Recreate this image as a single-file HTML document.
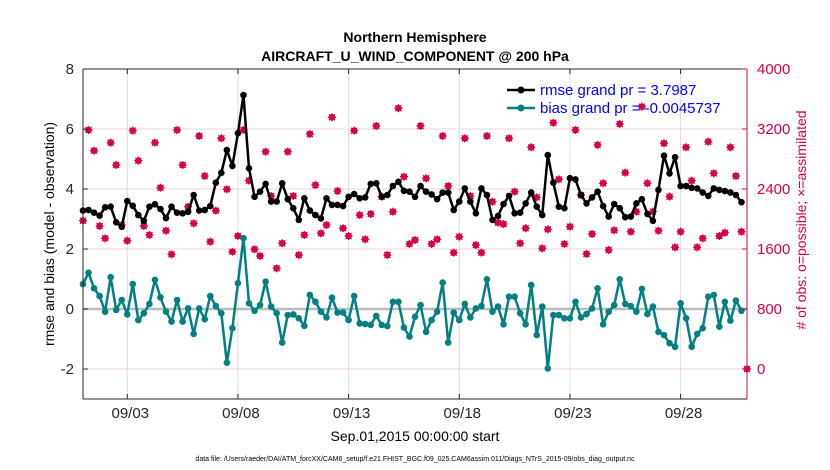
<!DOCTYPE html>
<html><head><meta charset="utf-8"><style>
html,body{margin:0;padding:0;background:#fff;width:830px;height:470px;overflow:hidden}
svg{display:block;font-family:"Liberation Sans",sans-serif}
</style></head><body>
<svg id="chart" width="830" height="470" viewBox="0 0 830 470" xmlns="http://www.w3.org/2000/svg">
<text x="415" y="42" text-anchor="middle" font-size="14" font-weight="bold">Northern Hemisphere</text>
<text x="415" y="61" text-anchor="middle" font-size="14" font-weight="bold">AIRCRAFT_U_WIND_COMPONENT @ 200 hPa</text>
<g id="grid"></g>
<g id="marks"></g>
<g id="axes"></g>
<text transform="translate(54,234) rotate(-90)" text-anchor="middle" font-size="14">rmse and bias (model - observation)</text>
<text transform="translate(806,220) rotate(-90)" text-anchor="middle" font-size="14" fill="#d6004a"># of obs: o=possible; ×=assimilated</text>
<text x="415" y="441" text-anchor="middle" font-size="14">Sep.01,2015 00:00:00 start</text>
<text x="415" y="461" text-anchor="middle" font-size="7">data file: /Users/raeder/DAI/ATM_forcXX/CAM6_setup/f.e21.FHIST_BGC.f09_025.CAM6assim.011/Diags_NTrS_2015-09/obs_diag_output.nc</text>
<g>
<line x1="507" y1="90" x2="535" y2="90" stroke="#000" stroke-width="2.5"/><circle cx="521" cy="90" r="3.5" fill="#000"/>
<text x="540" y="95" font-size="15" fill="#0000ff">rmse grand pr = 3.7987</text>
<line x1="507" y1="108" x2="535" y2="108" stroke="#008080" stroke-width="2.5"/><circle cx="521" cy="108" r="3.5" fill="#008080"/>
<text x="540" y="113" font-size="15" fill="#0000ff">bias grand pr = -0.0045737</text>
</g>
</svg>
<script>
const rmse=[3.28,3.3,3.21,3.11,3.39,3.41,2.89,2.74,3.6,3.44,3.13,2.94,3.41,3.49,3.33,3.03,3.41,3.21,3.19,3.24,3.8,3.28,3.3,3.43,4.21,4.54,5.3,4.77,5.86,7.13,4.69,3.74,
3.91,4.17,3.58,3.58,4.19,3.66,3.36,2.97,3.69,3.28,3.13,3.02,3.69,3.47,3.47,3.43,3.74,3.83,3.69,3.72,4.17,4.19,3.74,3.8,4.1,4.24,3.94,3.91,3.74,4.1,3.91,
3.82,3.66,3.88,3.88,3.3,3.58,4.02,3.58,3.19,4.02,3.8,2.97,3.1,3.5,3.77,3.19,3.21,3.52,3.88,3.41,3.13,5.13,4.21,3.41,3.36,4.36,4.32,3.8,3.52,3.72,3.91,
3.43,3.08,3.5,3.36,3.06,3.08,3.52,3.66,3.17,2.94,3.97,5.11,4.52,5.06,4.1,4.1,4.04,4.02,3.88,3.77,4.02,3.97,3.93,3.88,3.8,3.56];
const bias=[0.83,1.21,0.69,0.43,-0.09,1.06,-0.03,0.3,-0.18,0.83,-0.37,-0.14,0.17,0.97,0.39,-0.09,-0.42,0.3,-0.42,0.02,-0.83,0.02,-0.34,0.43,0.1,-0.14,-1.79,-0.64,0.86,2.36,0.19,-0.06,
0.13,0.91,0.08,-0.14,-1.12,-0.2,-0.18,-0.31,-0.56,0.47,0.24,-0.09,-0.28,0.38,-0.12,-0.12,-0.37,0.43,-0.48,-0.5,-0.53,-0.23,-0.53,-0.57,0.24,0.24,-0.62,-0.92,-0.26,0.13,-0.76,
-0.37,-0.09,0.88,-1.12,-0.12,-0.37,0.17,-0.28,0.02,0.1,0.99,-0.09,0.08,-0.51,0.41,0.41,-0.14,-0.51,0.8,-0.87,0.08,-1.98,-0.2,-0.2,-0.31,-0.31,0.24,-0.28,-0.17,0.02,0.69,
-0.51,-0.09,0.13,0.99,0.17,0.1,-0.09,0.67,-0.17,0.08,-0.76,-0.87,-1.14,-1.26,0.19,-0.31,-1.26,-0.83,-0.64,0.41,0.47,-0.59,0.24,-0.39,0.28,-0.06];
const nobs=[1978,3187,2911,1907,1742,3018,2720,1920,1711,3178,2778,1907,1787,3018,2418,1844,1529,3187,2720,2164,1942,3107,2573,1698,2111,3076,2396,1564,1773,3187,2511,1596,
1507,2898,2307,1342,1676,2898,2307,1520,1787,3133,2453,1809,1920,3356,2373,1876,1773,3178,2053,1729,2067,3240,2298,1520,2098,3476,2564,1667,1720,3240,2542,
1667,1729,3107,2440,1551,1764,3076,2307,1653,1551,3107,2231,1951,1933,3076,2365,1676,1876,2956,2289,1609,1862,3284,2529,1667,1898,3187,2320,1533,1800,2987,
2476,1587,1850,3267,2618,1831,2098,3498,2476,2098,1844,3009,2298,1622,1831,2956,2511,1622,1742,3031,2609,1773,1818,2956,2573,1831];
const leftTicks=[8,6,4,2,0,-2];
const rightTicks=[4000,3200,2400,1600,800,0];
const dayTicks=[3,8,13,18,23,28];
const dayLabels=["09/03","09/08","09/13","09/18","09/23","09/28"];
const X0=83,X1=747,Y0=69,Y1=399;
const xs=d=>X0+(d-1)*(X1-X0)/30;
const yl=v=>309-30*v;
const yr=c=>369-c*0.075;
const NS="http://www.w3.org/2000/svg";
function mk(p,t,a){const e=document.createElementNS(NS,t);for(const k in a)e.setAttribute(k,a[k]);p.appendChild(e);return e;}
const grid=document.getElementById('grid'),marks=document.getElementById('marks'),axes=document.getElementById('axes');
leftTicks.forEach(v=>{const g=mk(grid,'line',{x1:X0,x2:X1,y1:yl(v),y2:yl(v),stroke:'#f2d3dc','stroke-width':1});

});
dayTicks.forEach(d=>{const g=mk(grid,'line',{x1:xs(d),x2:xs(d),y1:Y0,y2:Y1,stroke:'#dcdcdc','stroke-width':1});

});
const zl=mk(grid,'line',{x1:X0,x2:X1,y1:yl(0),y2:yl(0),stroke:'#bbbbbb','stroke-width':2.5});


function obsMark(x,y){const g=mk(marks,'g',{stroke:'#d6004a',fill:'none','stroke-width':1.3});


mk(g,'circle',{cx:x,cy:y,r:2.6,fill:'#d6004a'});
mk(g,'path',{d:`M${x-4} ${y}H${x+4}M${x} ${y-4}V${y+4}M${x-3} ${y-3}L${x+3} ${y+3}M${x-3} ${y+3}L${x+3} ${y-3}`});}
nobs.forEach((c,i)=>obsMark(xs(1+i*0.25),yr(c)));
obsMark(X1,yr(0));
function series(vals,col,name){
const p=mk(marks,'polyline',{points:vals.map((v,i)=>xs(1+i*0.25)+','+yl(v)).join(' '),fill:'none',stroke:col,'stroke-width':2.5,'stroke-linejoin':'round'});


vals.forEach((v,i)=>{const c=mk(marks,'circle',{cx:xs(1+i*0.25),cy:yl(v),r:3.3,fill:col});

});}
series(rmse,'#000','rmse');
series(bias,'#008080','bias');
const bx=mk(axes,'path',{d:`M${X0} ${Y1}V${Y0}H${X1}M${X0} ${Y1}H${X1}`,stroke:'#262626',fill:'none','stroke-width':1});


const ra=mk(axes,'line',{x1:X1,x2:X1,y1:Y0,y2:Y1,stroke:'#d6004a','stroke-width':1});


leftTicks.forEach(v=>{mk(axes,'line',{x1:X0,x2:X0+5,y1:yl(v),y2:yl(v),stroke:'#262626'});
const t=mk(axes,'text',{x:X0-9,y:yl(v)+5,'text-anchor':'end','font-size':15,fill:'#262626'});t.textContent=v;

});
rightTicks.forEach(c=>{mk(axes,'line',{x1:X1-5,x2:X1,y1:yr(c),y2:yr(c),stroke:'#d6004a'});
const t=mk(axes,'text',{x:X1+10,y:yr(c)+5,'font-size':15,fill:'#d6004a'});t.textContent=c;

});
dayTicks.forEach((d,i)=>{mk(axes,'line',{x1:xs(d),x2:xs(d),y1:Y1,y2:Y1-5,stroke:'#262626'});mk(axes,'line',{x1:xs(d),x2:xs(d),y1:Y0,y2:Y0+5,stroke:'#262626'});
const t=mk(axes,'text',{x:xs(d)+3,y:Y1+19,'text-anchor':'middle','font-size':15,fill:'#262626'});t.textContent=dayLabels[i];

});
</script>
</body></html>
